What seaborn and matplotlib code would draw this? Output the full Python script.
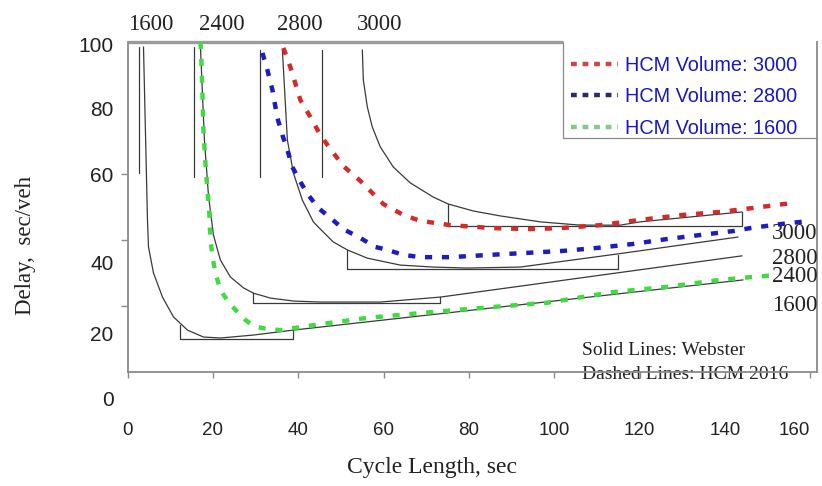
import matplotlib
matplotlib.use("Agg")
import matplotlib.pyplot as plt
from matplotlib.lines import Line2D
import seaborn as sns
import numpy as np

# ---------------- data ----------------
# Webster (solid) curves
w1600_x = [3.75, 4.68, 4.92, 6.09, 8.20, 10.77, 14.05, 17.80, 21.78, 29.51, 38.88, 144.26]
w1600_y = [98.5, 46.1, 37.9, 30.0, 22.7, 16.7, 12.7, 10.6, 10.3, 11.2, 12.7, 27.9]
w2400_x = [17.10, 18.03, 18.97, 20.14, 21.78, 24.12, 27.17, 29.51, 33.49, 38.88, 45.20, 59.25, 73.30, 144.03]
w2400_y = [98.5, 70.3, 53.6, 41.5, 33.9, 28.8, 25.5, 23.9, 22.4, 21.5, 21.2, 21.2, 22.7, 35.2]
w2800_x = [36.30, 37.47, 38.88, 40.98, 43.56, 45.20, 48.24, 51.52, 56.21, 63.93, 71.66, 79.63, 92.04, 114.99, 143.09]
w2800_y = [97.6, 70.3, 60.3, 52.1, 45.5, 43.3, 39.4, 37.0, 34.5, 32.4, 31.8, 31.5, 31.8, 35.8, 40.9]
w3000_x = [55.04, 55.27, 56.21, 57.38, 59.25, 62.30, 66.28, 71.66, 75.18, 81.03, 87.35, 96.72, 106.09, 115.46, 120.14, 143.99]
w3000_y = [97.6, 88.5, 80.3, 74.2, 68.2, 62.1, 57.3, 53.0, 50.9, 48.8, 47.3, 45.5, 44.5, 44.5, 45.5, 48.5]

# Webster asymptote markers (x, top, bottom)
marker_x = [2.58, 15.5, 31.15, 45.67]
marker_top = [98.5, 98.5, 97.6, 97.6]
marker_bottom = [60.3, 59.1, 59.1, 59.1]

# Optimal-range brackets: x_left, x_right, y_left_top, y_floor, y_right_top
br_xl = [12.4, 29.5, 51.5, 75.2]
br_xr = [38.9, 73.3, 115.0, 144.0]
br_yl = [14.2, 23.9, 37.0, 50.9]
br_floor = [10.0, 21.0, 31.2, 44.2]
br_yr = [13.3, 22.7, 35.5, 48.5]

# HCM 2016 (dashed) curves
hcm3000_x = [36.53, 38.17, 40.52, 42.86, 45.20, 47.54, 50.59, 54.57, 59.95, 64.64, 68.62, 75.64, 85.71,
             94.38, 101.41, 110.77, 120.14, 130.21, 138.88, 146.60, 155.74]
hcm3000_y = [98.2, 92.4, 82.4, 77.3, 71.8, 67.6, 62.4, 57.9, 50.9, 47.6, 45.8, 44.5, 43.6,
             43.3, 43.6, 44.5, 46.1, 47.6, 48.5, 49.7, 51.2]
hcm2800_x = [31.62, 32.79, 33.96, 35.13, 36.30, 37.47, 38.64, 40.52, 42.39, 44.73, 47.54, 50.59, 54.57,
             58.08, 60.89, 64.64, 68.62, 75.64, 85.01, 93.68, 102.11, 110.07, 118.50, 126.46, 134.19,
             141.92, 145.90, 152.93, 159.95]
hcm2800_y = [96.7, 91.5, 85.5, 77.0, 71.8, 67.3, 62.1, 57.6, 53.6, 49.7, 46.7, 43.3, 40.6,
             37.9, 37.0, 35.5, 34.8, 34.8, 35.5, 36.1, 36.7, 37.6, 38.8, 40.3, 41.5,
             42.7, 43.6, 44.8, 45.8]
hcm1600_x = [17.10, 17.33, 17.56, 17.80, 18.27, 18.74, 19.20, 19.44, 20.14, 20.61, 21.78, 23.65, 25.76,
             27.63, 29.51, 32.79, 35.83, 38.88, 45.20, 56.21, 71.66, 85.71, 98.36, 113.82, 126.46,
             138.88, 146.60, 152.46]
hcm1600_y = [100.0, 93.6, 84.5, 73.3, 63.3, 55.2, 47.6, 40.0, 33.3, 30.0, 24.8, 21.2, 18.2,
             15.8, 13.9, 13.0, 12.7, 13.3, 14.5, 16.4, 18.2, 19.7, 21.0, 24.2, 25.8,
             27.9, 28.8, 29.4]

legend_labels = ["HCM Volume: 3000", "HCM Volume: 2800", "HCM Volume: 1600"]
top_labels = ["1600", "2400", "2800", "3000"]
top_label_x = [5.4, 22.2, 40.5, 59.2]
right_labels = ["3000", "2800", "2400", "1600"]
right_label_y = [42.1, 34.5, 28.8, 20.3]
xtick_vals = [0, 20, 40, 60, 80, 100, 120, 140, 160]
ytick_labels = ["100", "80", "60", "40", "20", "0"]
ytick_pos = [99.1, 80.0, 59.7, 33.3, 11.8, -7.9]
yminor_pos = [20, 40, 60, 80]

# ---------------- styling ----------------
sns.set_theme(style="white")
plt.rcParams["font.family"] = ["Liberation Sans", "DejaVu Sans"]
SERIF = ["Liberation Serif", "DejaVu Serif"]
WEB = "#3a3a3a"
RED, BLUE, GREEN = "#d42a2a", "#1c1cc0", "#3fdc3f"
SPINE = "#8a8a8a"

fig = plt.figure(figsize=(8.22, 4.86), dpi=100)
XMAX = 161.6
YMIN = -10
ax = fig.add_axes([127.5 / 822, (486 - 405) / 486, (817 - 127.5) / 822, (405 - 42) / 486])
ax.set_xlim(0, XMAX)
ax.set_ylim(YMIN, 100)

# Webster curves
for xs, ys in [(w1600_x, w1600_y), (w2400_x, w2400_y), (w2800_x, w2800_y), (w3000_x, w3000_y)]:
    sns.lineplot(x=xs, y=ys, sort=False, estimator=None, color=WEB, lw=0.9, ax=ax)
for mx, mt, mb in zip(marker_x, marker_top, marker_bottom):
    sns.lineplot(x=[mx, mx], y=[mt, mb], sort=False, estimator=None, color=WEB, lw=0.9, ax=ax)
for xl, xr, yl, fl, yr in zip(br_xl, br_xr, br_yl, br_floor, br_yr):
    sns.lineplot(x=[xl, xl, xr, xr], y=[yl, fl, fl, yr], sort=False, estimator=None,
                 color=WEB, lw=0.9, ax=ax)

# HCM curves
dash = (0, (1.6, 2.2))
for xs, ys, c in [(hcm3000_x, hcm3000_y, RED), (hcm2800_x, hcm2800_y, BLUE), (hcm1600_x, hcm1600_y, GREEN)]:
    sns.lineplot(x=xs, y=ys, sort=False, estimator=None, color=c, lw=3.2, ax=ax,
                 linestyle=dash, zorder=4, clip_on=False)

# spines / ticks
ax.spines["top"].set_visible(False)
for s in ["left", "right", "bottom"]:
    ax.spines[s].set_color(SPINE)
    ax.spines[s].set_linewidth(1.3)
ax.spines["left"].set_bounds(0, 100)
ax.spines["right"].set_bounds(0, 100)
ax.spines["bottom"].set_position(("data", 0))
ax.plot([0, 0.632], [1, 1], transform=ax.transAxes, color="#9a9a9a", lw=2.4, clip_on=False,
        solid_capstyle="butt")
yb = (405 - 138) / 363
ax.plot([0.632, 0.632, 1.0], [1.0, yb, yb], transform=ax.transAxes, color="#8a8a8a", lw=0.9,
        clip_on=False)

ax.set_xticks(xtick_vals)
ax.set_xticklabels([str(v) for v in xtick_vals], fontsize=13.5, color="#222222")
ax.get_xticklabels()[-1].set_ha("right")
ax.tick_params(axis="x", length=4, width=1, color=SPINE, pad=32, direction="out", bottom=True)
ax.set_yticks(ytick_pos)
ax.set_yticklabels(ytick_labels, fontsize=15, color="#222222")
ax.set_yticks(yminor_pos, minor=True)
ax.tick_params(axis="y", which="major", length=0, pad=10, left=True)
ax.tick_params(axis="y", which="minor", length=5, width=1, color=SPINE, left=True)
ax.set_xlabel("")
ax.set_ylabel("")

# top volume labels
ax2 = ax.twiny()
ax2.set_xlim(0, XMAX)
ax2.set_xticks(top_label_x)
ax2.set_xticklabels(top_labels, fontsize=16.5, family=SERIF, color="#222222")
ax2.tick_params(axis="x", length=0, pad=5)
for s in ax2.spines.values():
    s.set_visible(False)
ax2.grid(False)

# right labels and notes
for lab, yv in zip(right_labels, right_label_y):
    ax.text(161.8, yv, lab, ha="right", va="center", fontsize=16.5, family=SERIF, color="#222222")
ax.text(106.6, 6.4, "Solid Lines: Webster", ha="left", va="center", fontsize=14, family=SERIF,
        color="#222222", zorder=1)
ax.text(106.6, -0.9, "Dashed Lines: HCM 2016", ha="left", va="center", fontsize=14, family=SERIF,
        color="#222222", zorder=1)

# legend
handles = [Line2D([], [], color=c, lw=3.2, linestyle=(0, (1.3, 1.3))) for c in ["#c84848", "#2a2a70", "#86c886"]]
leg = ax.legend(handles, legend_labels, loc="upper left", bbox_to_anchor=(0.634, 0.978),
                frameon=False, fontsize=14.3, handlelength=2.4, handletextpad=0.35,
                labelspacing=0.62, borderaxespad=0, borderpad=0.3)
for t in leg.get_texts():
    t.set_color("#1818c0")

fig.text(432 / 822, 1 - 468 / 486, "Cycle Length, sec", ha="center", va="center",
         fontsize=17, family=SERIF, color="#222222")
fig.text(25 / 822, 1 - 245 / 486, "Delay,  sec/veh", ha="center", va="center", rotation=90,
         fontsize=16.5, family=SERIF, color="#222222")

fig.savefig("out.png", dpi=100)
